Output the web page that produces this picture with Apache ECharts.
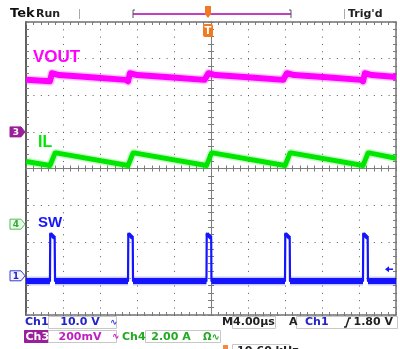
<!DOCTYPE html>
<html><head><meta charset="utf-8">
<script src="https://cdn.jsdelivr.net/npm/echarts@6/dist/echarts.min.js"></script>
<style>html,body{margin:0;padding:0;background:#fff}#c{width:400px;height:349px}</style>
</head><body><div id="c"></div>
<script>
// ---- data (time in µs, 4 µs/div; amplitude in screen divisions) ----
const xMin = -20, xMax = 20, xStep = 4;
const yMin = -4, yMax = 4, yStep = 1;

const voutTime = [-20, -17.41, -17.2, -16.4, -13.0, -9.2, -8.97, -8.76, -7.96, -4.5, -0.7, -0.49, -0.28, 0.5, 4.0, 7.8, 8.0, 8.21, 9.0, 12.5, 16.2, 16.43, 16.64, 17.4, 20];
const voutVal  = [2.42, 2.38, 2.60, 2.55, 2.49, 2.42, 2.38, 2.60, 2.55, 2.49, 2.42, 2.38, 2.60, 2.55, 2.49, 2.42, 2.38, 2.60, 2.55, 2.49, 2.42, 2.38, 2.60, 2.55, 2.50];

const ilTime = [-20, -17.41, -16.86, -16.6, -8.97, -8.43, -8.17, -0.49, 0.05, 0.31, 8.0, 8.54, 8.8, 16.43, 16.97, 17.23, 20];
const ilVal  = [0.19, 0.08, 0.42, 0.42, 0.08, 0.42, 0.42, 0.08, 0.42, 0.42, 0.08, 0.42, 0.42, 0.08, 0.42, 0.42, 0.28];

const swTime = [-20, -17.41, -17.38, -17.2, -16.9, -16.86, -8.97, -8.94, -8.76, -8.46, -8.43, -0.49, -0.46, -0.28, 0.02, 0.05, 8.0, 8.03, 8.21, 8.51, 8.54, 16.43, 16.46, 16.64, 16.94, 16.97, 20];
const swVal  = [-3.07, -3.07, -1.78, -1.76, -1.90, -3.07, -3.07, -1.78, -1.76, -1.90, -3.07, -3.07, -1.78, -1.76, -1.90, -3.07, -3.07, -1.78, -1.76, -1.90, -3.07, -3.07, -1.78, -1.76, -1.90, -3.07, -3.07];

const traceNames = ['VOUT', 'IL', 'SW'];
const groundLevels = [1.0, -1.52, -2.93];   // ch3, ch4, ch1 ground markers (div)
const groundLabels = ['3', '4', '1'];
const trigLevel = -2.75;                     // div
const headerTexts = ['Tek', 'Run', "Trig'd"];
const ch1Texts = ['Ch1', '10.0 V'];
const ch3Texts = ['Ch3', '200mV'];
const ch4Texts = ['Ch4', '2.00 A', 'Ω∿'];
const timeTexts = ['M', '4.00µs', 'A', 'Ch1', '1.80 V'];
const freqText = '10.60 kHz';

// ---- colours ----
const C_MAG = '#ff00ff', C_GRN = '#00e600', C_BLU = '#1414ff';
const GRAY = '#7c7c7c', DOT = '#5a5a5a';

const zip = (t, v) => t.map((x, i) => [x, v[i]]);
const swBand = zip(swTime, swVal).map(p => p[1] < -2.5 ? p : [p[0], null]);
const swTop = zip(swTime, swVal).map(p => p[1] > -2.0 ? p : [p[0], null]);

const chart = echarts.init(document.getElementById('c'), null, {renderer: 'canvas'});

function xAxisCfg(position, onZero, inside, split, lineW, lineC) {
  return {
    type: 'value', min: xMin, max: xMax, interval: xStep, position: position,
    axisLabel: {show: false},
    axisLine: {show: true, onZero: onZero, onZeroAxisIndex: 0, lineStyle: {color: lineC, width: lineW}},
    axisTick: {show: true, inside: inside, length: 3, lineStyle: {color: GRAY}},
    minorTick: {show: true, splitNumber: 5, length: 3, lineStyle: {color: GRAY}},
    splitLine: {show: split, lineStyle: {color: DOT, width: 1, type: [1, 6.32]}},
    minorSplitLine: {show: false}
  };
}
function yAxisCfg(position, onZero, inside, split, lineW, lineC) {
  return {
    type: 'value', min: yMin, max: yMax, interval: yStep, position: position,
    axisLabel: {show: false},
    axisLine: {show: true, onZero: onZero, onZeroAxisIndex: 0, lineStyle: {color: lineC, width: lineW}},
    axisTick: {show: true, inside: inside, length: 3, lineStyle: {color: GRAY}},
    minorTick: {show: true, splitNumber: 5, length: 3, lineStyle: {color: GRAY}},
    splitLine: {show: split, lineStyle: {color: DOT, width: 1, type: [1, 6.4]}},
    minorSplitLine: {show: false}
  };
}

function lineSeries(data, color, width, opacity, z) {
  return {
    type: 'line', data: data, xAxisIndex: 0, yAxisIndex: 0, showSymbol: false,
    connectNulls: false, silent: true, z: z,
    lineStyle: {color: color, width: width, opacity: opacity, join: 'round', cap: 'butt'}
  };
}

chart.setOption({
  animation: false,
  backgroundColor: '#ffffff',
  grid: {left: 26, right: 4, top: 22, bottom: 34, containLabel: false},
  xAxis: [
    xAxisCfg('bottom', false, true, true, 1.5, '#707070'),
    xAxisCfg('top', false, true, false, 1.5, '#707070'),
    xAxisCfg('bottom', true, true, false, 1, GRAY),
    xAxisCfg('bottom', true, false, false, 1, GRAY)
  ],
  yAxis: [
    yAxisCfg('left', false, true, true, 2, '#606060'),
    yAxisCfg('right', false, true, false, 1.5, '#707070'),
    yAxisCfg('left', true, true, false, 1, GRAY),
    yAxisCfg('left', true, false, false, 1, GRAY)
  ],
  series: [
    lineSeries(zip(voutTime, voutVal), C_MAG, 9, 0.22, 3),
    lineSeries(zip(voutTime, voutVal), C_MAG, 6, 1, 4),
    lineSeries(zip(ilTime, ilVal), C_GRN, 8, 0.22, 3),
    lineSeries(zip(ilTime, ilVal), C_GRN, 5, 1, 4),
    lineSeries(swBand, C_BLU, 9, 0.22, 3),
    lineSeries(swBand, C_BLU, 6, 1, 4),
    lineSeries(zip(swTime, swVal), C_BLU, 2.2, 1, 5),
    lineSeries(swTop, C_BLU, 4, 1, 5)
  ]
});

// ---- annotations ----
const px = (t, v) => chart.convertToPixel({xAxisIndex: 0, yAxisIndex: 0}, [t, v]);
const leftX = px(xMin, 0)[0], rightX = px(xMax, 0)[0];
const FONT = 'bold 11px "DejaVu Sans", Verdana, sans-serif';
const g = [];
function txt(s, x, y, fill, font, align) {
  g.push({type: 'text', z: 100, style: {text: s, x: x, y: y, fill: fill, font: font || FONT,
    textAlign: align || 'left', textVerticalAlign: 'middle', align: align || 'left', verticalAlign: 'middle'}});
}
function box(x, y, w, h, fill, stroke) {
  g.push({type: 'rect', z: 90, shape: {x: x, y: y, width: w, height: h}, style: {fill: fill || '#fff', stroke: stroke || '#c8c8c8', lineWidth: 1}});
}

// header
txt(headerTexts[0], 10, 14, '#111', 'bold 13px "DejaVu Sans", sans-serif');
txt(headerTexts[1], 36, 14, '#222', 'bold 11px "DejaVu Sans", sans-serif');
txt(headerTexts[2], 348, 14, '#222', 'bold 11px "DejaVu Sans", sans-serif');
g.push({type: 'line', z: 90, shape: {x1: 79.5, y1: 9, x2: 79.5, y2: 19}, style: {stroke: '#aaa', lineWidth: 1}});
g.push({type: 'line', z: 90, shape: {x1: 344.5, y1: 9, x2: 344.5, y2: 19}, style: {stroke: '#aaa', lineWidth: 1}});
// record bar
g.push({type: 'line', z: 90, shape: {x1: 133, y1: 14, x2: 291, y2: 14}, style: {stroke: '#c040c0', lineWidth: 2}});
g.push({type: 'polyline', z: 91, shape: {points: [[135, 10], [133, 10], [133, 18]]}, style: {stroke: '#555', lineWidth: 1, fill: null}});
g.push({type: 'polyline', z: 91, shape: {points: [[289, 10], [291, 10], [291, 18]]}, style: {stroke: '#555', lineWidth: 1, fill: null}});
// trigger markers
const tx = px(0, 0)[0] - 3;
g.push({type: 'polygon', z: 92, shape: {points: [[tx - 3, 6], [tx + 3, 6], [tx + 3, 14], [tx, 18], [tx - 3, 14]]}, style: {fill: '#f07a20'}});
g.push({type: 'rect', z: 92, shape: {x: tx - 5, y: 24, width: 10, height: 13, r: 2}, style: {fill: '#f07a20'}});
txt('T', tx, 31, '#fff', 'bold 10px "DejaVu Sans", sans-serif', 'center');

// trace labels
txt(traceNames[0], 33, 57, C_MAG, 'bold 17px "Liberation Sans", Arial, sans-serif');
txt(traceNames[1], 38, 143, C_GRN, 'bold 16px "Liberation Sans", Arial, sans-serif');
txt(traceNames[2], 38, 223, C_BLU, 'bold 15px "Liberation Sans", Arial, sans-serif');

// ground markers
const gmStyle = [
  {fill: '#9a1f9a', stroke: '#9a1f9a', text: '#fff'},
  {fill: '#eaffea', stroke: '#55bb55', text: '#33aa33'},
  {fill: '#f4f4ff', stroke: '#3a3ad0', text: '#2525c0'}
];
groundLevels.forEach((lv, i) => {
  const y = px(xMin, lv)[1];
  const r = leftX - 1;
  const s = gmStyle[i];
  g.push({type: 'polygon', z: 95, shape: {points: [[r - 15, y - 5], [r - 4, y - 5], [r, y], [r - 4, y + 5], [r - 15, y + 5]]},
    style: {fill: s.fill, stroke: s.stroke, lineWidth: 1}});
  txt(groundLabels[i], r - 9, y + 0.5, s.text, 'bold 9px "DejaVu Sans", sans-serif', 'center');
});
// trigger level arrow (right)
const ty = px(xMax, trigLevel)[1];
g.push({type: 'line', z: 95, shape: {x1: rightX - 9, y1: ty, x2: rightX - 3, y2: ty}, style: {stroke: C_BLU, lineWidth: 1.5}});
g.push({type: 'polygon', z: 95, shape: {points: [[rightX - 11, ty], [rightX - 7, ty - 3], [rightX - 7, ty + 3]]}, style: {fill: C_BLU}});

// bottom info
const r1 = 322.5, r2 = 337, r3 = 351;
txt(ch1Texts[0], 25, r1, '#2323c8');
box(48.5, 316.5, 68, 12);
txt(ch1Texts[1], 80, r1, '#2323c8', FONT, 'center');
txt('∿', 110, r1, '#4040d0', 'bold 9px "DejaVu Sans", sans-serif');
box(24.5, 330.5, 24, 12, '#9a1f9a', '#9a1f9a');
txt(ch3Texts[0], 25.5, r2, '#ffffff');
box(48.5, 330.5, 68, 12);
txt(ch3Texts[1], 80, r2, '#c020c0', FONT, 'center');
txt('∿', 112, r2, '#c020c0', 'bold 9px "DejaVu Sans", sans-serif');
txt(ch4Texts[0], 122, r2, '#22aa22');
box(145.5, 330.5, 75, 12);
txt(ch4Texts[1], 171, r2, '#22aa22', FONT, 'center');
txt(ch4Texts[2], 203, r2, '#22aa22', 'bold 10px "DejaVu Sans", sans-serif');
txt(timeTexts[0], 222, r1, '#222');
box(232.5, 316.5, 43, 12);
txt(timeTexts[1], 254, r1, '#222', FONT, 'center');
txt(timeTexts[2], 289, r1, '#222');
box(296.5, 316.5, 101, 12);
txt(timeTexts[3], 305, r1, '#2323c8');
g.push({type: 'polyline', z: 100, shape: {points: [[344, 327], [346, 327], [349, 318], [351, 318]]}, style: {stroke: '#222', lineWidth: 1.5, fill: null}});
txt(timeTexts[4], 393, r1, '#222', FONT, 'right');
g.push({type: 'rect', z: 95, shape: {x: 223, y: 345, width: 5, height: 6}, style: {fill: '#f08a40'}});
box(232.5, 344.5, 57, 12);
txt(freqText, 237, r3, '#222');

chart.setOption({graphic: {elements: g}});
</script>
</body></html>
